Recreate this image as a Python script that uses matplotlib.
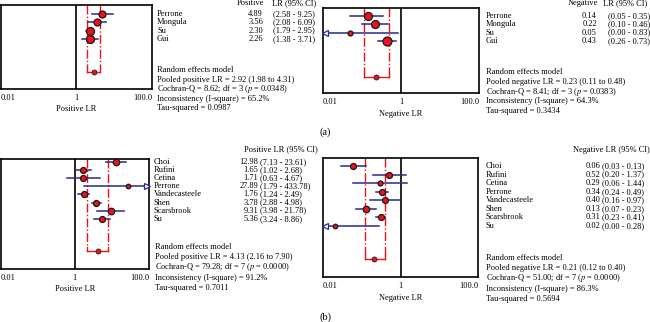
import numpy as np
import matplotlib
matplotlib.use("Agg")
from matplotlib import pyplot as plt
from matplotlib.transforms import blended_transform_factory

plt.rcParams['font.family'] = ['Liberation Serif', 'DejaVu Serif']
plt.rcParams['mathtext.fontset'] = 'stix'

# (a) positive LR
a_studies = ['Perrone', 'Mongula', 'Su', 'Gui']
a_plr = [4.89, 3.56, 2.30, 2.26]
a_plr_lo = [2.58, 2.08, 1.79, 1.38]
a_plr_hi = [9.25, 6.09, 2.95, 3.71]
a_plr_wt = [7, 7, 8, 8]
a_plr_pool = [2.92, 1.98, 4.31]
a_plr_stats = ['8.62', '3', '0.0348', '65.2%', '0.0987']

# (a) negative LR
a_nlr = [0.14, 0.22, 0.05, 0.43]
a_nlr_lo = [0.05, 0.10, 0.00, 0.26]
a_nlr_hi = [0.35, 0.46, 0.83, 0.73]
a_nlr_wt = [8, 8, 5, 9]
a_nlr_pool = [0.23, 0.11, 0.48]
a_nlr_stats = ['8.41', '3', '0.0383', '64.3%', '0.3434']

# (b) positive LR
b_studies = ['Choi', 'Rufini', 'Cetina', 'Perrone', 'Vandecasteele', 'Shen', 'Scarsbrook', 'Su']
b_plr = [12.98, 1.65, 1.71, 27.89, 1.76, 3.78, 9.31, 5.36]
b_plr_lo = [7.13, 1.02, 0.63, 1.79, 1.24, 2.88, 3.98, 3.24]
b_plr_hi = [23.61, 2.68, 4.67, 433.78, 2.49, 4.98, 21.78, 8.86]
b_plr_wt = [6.5, 6, 6, 4.5, 6, 6, 6.5, 6]
b_plr_pool = [4.13, 2.16, 7.90]
b_plr_stats = ['79.28', '7', '0.0000', '91.2%', '0.7011']

# (b) negative LR
b_nlr = [0.06, 0.52, 0.29, 0.34, 0.40, 0.13, 0.31, 0.02]
b_nlr_lo = [0.03, 0.20, 0.06, 0.24, 0.16, 0.07, 0.23, 0.00]
b_nlr_hi = [0.13, 1.37, 1.44, 0.49, 0.97, 0.23, 0.41, 0.28]
b_nlr_wt = [6, 6, 5, 6, 6, 6.5, 6, 4.5]
b_nlr_pool = [0.21, 0.12, 0.40]
b_nlr_stats = ['51.00', '7', '0.0000', '86.3%', '0.5694']

W, H = 650, 322
FS = 6.0
BLUE = '#2a2a8a'
RED = '#e8141a'

fig = plt.figure(figsize=(W / 100, H / 100), dpi=100)


def box(l, t, r, b):
    return [l / W, 1 - b / H, (r - l) / W, (b - t) / H]


def forest(rect, est, lo, hi, wt, pool, ylim, pool_y, xlabel, labelpad):
    ax = fig.add_axes(rect)
    ax.set_xscale('log')
    ax.set_xlim(0.01, 100)
    ax.set_ylim(*ylim)
    ax.axvline(1, color='black', lw=1.2, zorder=1)
    # pooled CI bracket
    top = ylim[1]
    for v in pool[1:]:
        ax.plot([v, v], [top, pool_y - 0.5], color=RED, lw=1, ls='-.', zorder=1)
        ax.plot([v, v], [pool_y - 0.5, pool_y], color=RED, lw=1, zorder=1)
    ax.plot(pool[1:], [pool_y, pool_y], color=RED, lw=1, zorder=1)
    ax.plot(pool[0], pool_y, 'o', ms=5 * 0.72, mfc=RED, mec='#222222', mew=0.6, zorder=4)
    for i in range(len(est)):
        l, h = lo[i], hi[i]
        l_draw = max(l, 0.0101)
        h_draw = min(h, 99)
        ax.plot([l_draw, h_draw], [i, i], color=BLUE, lw=1.1, zorder=2)
        if l < 0.01:
            ax.plot(0.0115, i, marker='<', ms=4.5, mfc='white', mec=BLUE, mew=0.9,
                    clip_on=False, zorder=3)
        if h > 100:
            ax.plot(87, i, marker='>', ms=4.5, mfc='white', mec=BLUE, mew=0.9,
                    clip_on=False, zorder=3)
        ax.plot(est[i], i, 'o', ms=wt[i] * 0.72, mfc=RED, mec='#1a1a1a', mew=0.9, zorder=3)
    for s in ax.spines.values():
        s.set_linewidth(1.2)
    ax.set_yticks([])
    ax.minorticks_off()
    ax.set_xticks([0.01, 1, 100])
    ax.set_xticklabels(['0.01', '1', '100.0'], fontsize=FS)
    tl = ax.get_xticklabels()
    tl[0].set_ha('left')
    tl[2].set_ha('right')
    ax.tick_params(axis='x', length=0, pad=3.5)
    ax.set_xlabel(xlabel, fontsize=FS, labelpad=labelpad)
    return ax


def table(ax, names, est, lo, hi, xname, xval, xci):
    tr = blended_transform_factory(fig.transFigure, ax.transData)
    for i in range(len(names)):
        ax.text(xname / W, i, names[i], transform=tr, fontsize=FS, va='center', ha='left')
        ax.text(xval / W, i, '%.2f' % est[i], transform=tr, fontsize=FS, va='center', ha='right')
        ax.text(xci / W, i, '(%.2f - %.2f)' % (lo[i], hi[i]), transform=tr,
                fontsize=FS, va='center', ha='left')


def summary(x, y0, step, kind, pool, stats):
    q, df, p, i2, tau = stats
    lines = ['Random effects model',
             'Pooled %s LR = %.2f (%.2f to %.2f)' % (kind, pool[0], pool[1], pool[2]),
             'Cochran-Q = %s; df = %s ($p$ = %s)' % (q, df, p),
             'Inconsistency (I-square) = %s' % i2,
             'Tau-squared = %s' % tau]
    for k, s in enumerate(lines):
        fig.text(x / W, 1 - (y0 + k * step) / H, s, fontsize=FS, va='center', ha='left')


# top-left
ax1 = forest(box(0.5, 5, 152, 89), a_plr, a_plr_lo, a_plr_hi, a_plr_wt, a_plr_pool,
             (9.05, -1.08), 7.0, 'Positive LR', 2)
table(ax1, a_studies, a_plr, a_plr_lo, a_plr_hi, 157, 263, 273)
fig.text(264 / W, 1 - 3 / H, 'Positive', fontsize=FS, va='center', ha='right')
fig.text(272 / W, 1 - 3 / H, 'LR (95% CI)', fontsize=FS, va='center', ha='left')
summary(157, 70, 9.6, 'positive', a_plr_pool, a_plr_stats)

# top-right
ax2 = forest(box(323, 8, 479, 93), a_nlr, a_nlr_lo, a_nlr_hi, a_nlr_wt, a_nlr_pool,
             (9.3, -0.96), 7.35, 'Negative LR', 3)
table(ax2, a_studies, a_nlr, a_nlr_lo, a_nlr_hi, 486, 597, 608)
fig.text(598 / W, 1 - 3 / H, 'Negative', fontsize=FS, va='center', ha='right')
fig.text(603 / W, 1 - 3 / H, 'LR (95% CI)', fontsize=FS, va='center', ha='left')
summary(486, 72, 9.8, 'negative', a_nlr_pool, a_nlr_stats)

# bottom-left
ax3 = forest(box(0.5, 159, 149, 269), b_plr, b_plr_lo, b_plr_hi, b_plr_wt, b_plr_pool,
             (13.2, -0.37), 11.0, 'Positive LR', 2)
table(ax3, b_studies, b_plr, b_plr_lo, b_plr_hi, 154, 258, 260)
fig.text(281 / W, 1 - 149 / H, 'Positive LR (95% CI)', fontsize=FS, va='center', ha='center')
summary(155, 247, 10.2, 'positive', b_plr_pool, b_plr_stats)

# bottom-right
ax4 = forest(box(323, 158, 478, 277), b_nlr, b_nlr_lo, b_nlr_hi, b_nlr_wt, b_nlr_pool,
             (12.95, -0.93), 10.85, 'Negative LR', 3)
table(ax4, b_studies, b_nlr, b_nlr_lo, b_nlr_hi, 486, 600, 602)
fig.text(611 / W, 1 - 150 / H, 'Negative LR (95% CI)', fontsize=FS, va='center', ha='center')
summary(486, 258, 10.2, 'negative', b_nlr_pool, b_nlr_stats)

fig.text(325 / W, 1 - 132 / H, '(a)', fontsize=7.5, va='center', ha='center')
fig.text(325 / W, 1 - 317 / H, '(b)', fontsize=7.5, va='center', ha='center')

fig.savefig('out.png', dpi=100)
